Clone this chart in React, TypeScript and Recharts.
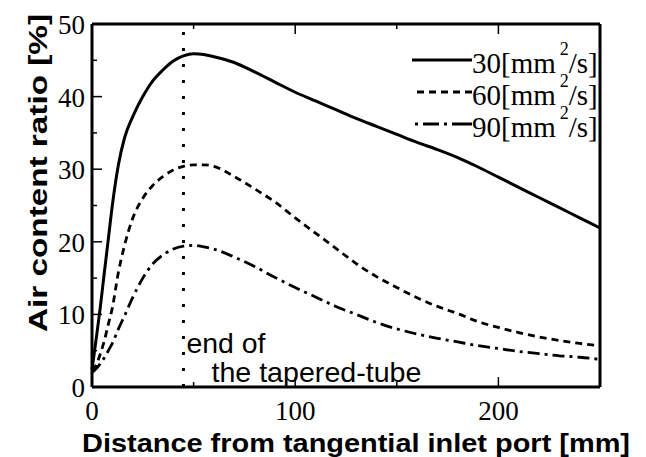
import React from 'react';
import { LineChart, Line, XAxis, YAxis, ReferenceLine, Legend, Label } from 'recharts';

// Distance from tangential inlet port [mm]
const X_MM = [0, 2, 4, 6, 8, 10, 13, 16, 20, 25, 30, 35, 40, 45, 50, 55, 60, 70, 80, 90, 100, 110, 120, 130, 140, 150, 160, 170, 180, 190, 200, 210, 220, 230, 240, 250];
// Air content ratio [%] for each viscosity
const AIR_30 = [2.4, 6.5, 10.8, 15.6, 20.3, 25, 30.6, 34.3, 37.2, 40, 42.2, 43.7, 44.9, 45.6, 45.9, 45.8, 45.5, 44.7, 43.4, 42.0, 40.6, 39.4, 38.2, 37.0, 35.9, 34.8, 33.7, 32.7, 31.6, 30.3, 28.9, 27.5, 26.1, 24.7, 23.3, 21.9];
const AIR_60 = [2.3, 3.0, 4.5, 6.3, 8.6, 10.9, 15.8, 19.5, 23.2, 26, 27.8, 29, 29.9, 30.4, 30.6, 30.6, 30.4, 29, 27.3, 25.5, 23.3, 21.2, 19.1, 17, 15.2, 13.7, 12.3, 11.1, 10.1, 9, 8.2, 7.5, 6.9, 6.4, 6, 5.7];
const AIR_90 = [2.0, 2.5, 3.2, 4.0, 5.0, 6.0, 8.0, 9.8, 12.3, 15.0, 17.0, 18.2, 19.0, 19.4, 19.5, 19.3, 19.0, 17.9, 16.6, 15.1, 13.7, 12.4, 11.1, 10.0, 8.9, 8.0, 7.3, 6.7, 6.2, 5.7, 5.3, 4.9, 4.6, 4.3, 4.1, 3.8];

const VISCOSITIES = [30, 60, 90];
const X_TICKS = [0, 50, 100, 150, 200, 250];
const X_LABELED = [0, 100, 200];
const Y_TICKS = [0, 5, 10, 15, 20, 25, 30, 35, 40, 45, 50];
const Y_LABELED = [0, 10, 20, 30, 40, 50];
const TAPER_END = 45;
const TAPER_TEXT = ['end of', 'the tapered-tube'];
const X_TITLE = 'Distance from tangential inlet port [mm]';
const Y_TITLE = 'Air content ratio [%]';

const rows = X_MM.map((x, i) => ({ x, v30: AIR_30[i], v60: AIR_60[i], v90: AIR_90[i] }));

const SERIES = [
  { key: 'v30', visc: VISCOSITIES[0], width: 3, dash: undefined as string | undefined, legendDash: undefined as string | undefined, lx1: 12 },
  { key: 'v60', visc: VISCOSITIES[1], width: 2.8, dash: '7 5', legendDash: '7 5', lx1: 17 },
  { key: 'v90', visc: VISCOSITIES[2], width: 2.8, dash: '12 5 3 5', legendDash: '3 5 16 5 3 5 20 0', lx1: 15 },
];

const SERIF = "'Liberation Serif', 'Times New Roman', serif";
const SANS = "'Liberation Sans', Arial, sans-serif";
const serifStyle = { fontFamily: SERIF, fontSize: 27, fill: '#000' } as React.CSSProperties;

const XTickBottom = (props: any) => {
  const { x, y, payload } = props;
  const v = payload.value;
  const major = v % 100 === 0;
  return (
    <g>
      {v > 0 && v < 250 && (
        <line x1={x} x2={x} y1={y} y2={y - (major ? 10 : 5)} stroke="#000" strokeWidth={1.5} />
      )}
      {X_LABELED.includes(v) && (
        <text x={x} y={y + 33} textAnchor="middle" style={serifStyle}>
          {v}
        </text>
      )}
    </g>
  );
};

const XTickTop = (props: any) => {
  const { x, y, payload } = props;
  const v = payload.value;
  const major = v % 100 === 0;
  if (v <= 0 || v >= 250) return <g />;
  return <line x1={x} x2={x} y1={y} y2={y + (major ? 10 : 5)} stroke="#000" strokeWidth={1.5} />;
};

const YTickLeft = (props: any) => {
  const { x, y, payload } = props;
  const v = payload.value;
  const major = v % 10 === 0;
  return (
    <g>
      {v > 0 && v < 50 && (
        <line x1={x} x2={x + (major ? 10 : 5)} y1={y} y2={y} stroke="#000" strokeWidth={1.5} />
      )}
      {Y_LABELED.includes(v) && (
        <text x={x - 7} y={y + 10} textAnchor="end" style={serifStyle}>
          {v}
        </text>
      )}
    </g>
  );
};

const YTickRight = (props: any) => {
  const { x, y, payload } = props;
  const v = payload.value;
  const major = v % 10 === 0;
  if (v <= 0 || v >= 50) return <g />;
  return <line x1={x} x2={x - (major ? 10 : 5)} y1={y} y2={y} stroke="#000" strokeWidth={1.5} />;
};

const XTitle = (props: any) => {
  const vb = props.viewBox;
  return (
    <text
      x={vb.x + vb.width / 2 + 10}
      y={vb.y + 64.5}
      textAnchor="middle"
      style={{ fontFamily: SANS, fontWeight: 'bold', fontSize: 26, fill: '#000' }}
      textLength={548}
      lengthAdjust="spacingAndGlyphs"
    >
      {X_TITLE}
    </text>
  );
};

const YTitle = (props: any) => {
  const vb = props.viewBox;
  const cx = vb.x + 47;
  const cy = vb.y + 149;
  return (
    <text
      x={cx}
      y={cy}
      transform={`rotate(-90, ${cx}, ${cy})`}
      textAnchor="middle"
      style={{ fontFamily: SANS, fontWeight: 'bold', fontSize: 25, fill: '#000' }}
      textLength={318}
      lengthAdjust="spacingAndGlyphs"
    >
      {Y_TITLE}
    </text>
  );
};

const TaperLabel = (props: any) => {
  const vb = props.viewBox || { x: 0, y: 0, width: 0, height: 0 };
  const bottom = vb.y + vb.height;
  const st = { fontFamily: SANS, fontSize: 28, fill: '#000' } as React.CSSProperties;
  return (
    <g>
      <text x={vb.x + 3} y={bottom - 34} style={st} textLength={79} lengthAdjust="spacingAndGlyphs">
        {TAPER_TEXT[0]}
      </text>
      <text x={vb.x + 28} y={bottom - 5} style={st} textLength={210} lengthAdjust="spacingAndGlyphs">
        {TAPER_TEXT[1]}
      </text>
    </g>
  );
};

const LegendBox = () => (
  <svg width={200} height={120} style={{ display: 'block', overflow: 'visible' }}>
    {SERIES.map((s, i) => (
      <g key={s.key}>
        <line
          x1={s.lx1}
          x2={72}
          y1={30 + 32 * i}
          y2={30 + 32 * i}
          stroke="#000"
          strokeWidth={s.width}
          strokeDasharray={s.legendDash}
        />
        <text x={72} y={43 + 32 * i} style={{ fontFamily: SERIF, fontSize: 29, fill: '#000' }}>
          {`${s.visc}[mm`}
          <tspan dx={4} dy={-18} style={{ fontSize: 18 }}>2</tspan>
          <tspan dy={18} style={{ fontSize: 29 }}>/s]</tspan>
        </text>
      </g>
    ))}
  </svg>
);

export default function App() {
  return (
    <div style={{ position: 'absolute', left: 0, top: 0, width: 646, height: 457, background: '#fff' }}>
      <LineChart width={646} height={457} data={rows} margin={{ top: 23, right: 45, bottom: 0, left: 0 }}>
        <XAxis
          dataKey="x"
          type="number"
          domain={[0, 250]}
          ticks={X_TICKS}
          interval={0}
          height={70}
          tickSize={0}
          tickMargin={0}
          tickLine={false}
          axisLine={{ stroke: '#000', strokeWidth: 3 }}
          tick={XTickBottom}
        >
          <Label content={XTitle} />
        </XAxis>
        <XAxis
          xAxisId="top"
          orientation="top"
          dataKey="x"
          type="number"
          domain={[0, 250]}
          ticks={X_TICKS}
          interval={0}
          height={1}
          tickSize={0}
          tickMargin={0}
          tickLine={false}
          axisLine={{ stroke: '#000', strokeWidth: 3 }}
          tick={XTickTop}
        />
        <YAxis
          type="number"
          domain={[0, 50]}
          ticks={Y_TICKS}
          interval={0}
          width={92}
          tickSize={0}
          tickMargin={0}
          tickLine={false}
          axisLine={{ stroke: '#000', strokeWidth: 3 }}
          tick={YTickLeft}
        >
          <Label content={YTitle} />
        </YAxis>
        <YAxis
          yAxisId="right"
          orientation="right"
          type="number"
          domain={[0, 50]}
          ticks={Y_TICKS}
          interval={0}
          width={1}
          tickSize={0}
          tickMargin={0}
          tickLine={false}
          axisLine={{ stroke: '#000', strokeWidth: 3 }}
          tick={YTickRight}
        />
        <ReferenceLine x={TAPER_END} stroke="#000" strokeWidth={3} strokeDasharray="3 13" label={<TaperLabel />} />
        {SERIES.map((s) => (
          <Line
            key={s.key}
            dataKey={s.key}
            type="monotone"
            stroke="#000"
            strokeWidth={s.width}
            strokeDasharray={s.dash}
            dot={false}
            activeDot={false}
            isAnimationActive={false}
          />
        ))}
        <Legend
          layout="horizontal"
          verticalAlign="middle"
          content={LegendBox}
          wrapperStyle={{ left: 400, top: 30, width: 200, height: 120 }}
        />
      </LineChart>
    </div>
  );
}
